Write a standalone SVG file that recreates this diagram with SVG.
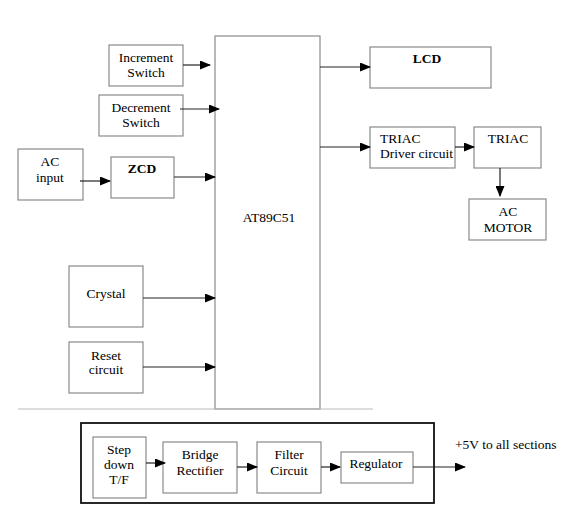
<svg xmlns="http://www.w3.org/2000/svg" width="581" height="530" viewBox="0 0 581 530">
<style>
.b{fill:#fff;stroke:#8a8a8a;stroke-width:1.2}
.t{font-family:"Liberation Serif","Times New Roman",serif;font-size:13.5px;fill:#000;text-anchor:middle}
.l{text-anchor:start}
.bd{font-weight:bold}
.c{stroke:#222;stroke-width:1.2;fill:none;marker-end:url(#a)}
</style>
<defs>
<marker id="a" markerWidth="11" markerHeight="9" refX="10" refY="4.5" orient="auto" markerUnits="userSpaceOnUse">
<path d="M0,0 L11,4.5 L0,9 Z" fill="#000"/>
</marker>
</defs>
<rect width="581" height="530" fill="#fff"/>
<g id="mcu"><rect class="b" x="215" y="36" width="105" height="373"/><text class="t" x="269" y="222" font-size="14">AT89C51</text></g>
<g id="inc"><rect class="b" x="109" y="45" width="74" height="41"/><text class="t" x="146" y="62">Increment</text><text class="t" x="146" y="77">Switch</text></g>
<g id="dec"><rect class="b" x="99" y="95" width="84" height="41"/><text class="t" x="141" y="112">Decrement</text><text class="t" x="141" y="127">Switch</text></g>
<g id="acin"><rect class="b" x="18" y="149" width="65" height="51"/><text class="t" x="50" y="166">AC</text><text class="t" x="50" y="182">input</text></g>
<g id="zcd"><rect class="b" x="111" y="157" width="63" height="41"/><text class="t bd" x="142" y="173">ZCD</text></g>
<g id="crystal"><rect class="b" x="69" y="266" width="74" height="61"/><text class="t" x="106" y="298">Crystal</text></g>
<g id="reset"><rect class="b" x="69" y="342" width="74" height="51"/><text class="t" x="106" y="360">Reset</text><text class="t" x="106" y="374">circuit</text></g>
<g id="lcd"><rect class="b" x="370" y="47" width="121" height="41"/><text class="t bd" x="427" y="63">LCD</text></g>
<g id="driver"><rect class="b" x="370" y="127" width="85" height="41"/><text class="t l" x="380" y="143">TRIAC</text><text class="t l" x="380" y="158" font-size="12.3">Driver circuit</text></g>
<g id="triac"><rect class="b" x="474" y="127" width="67" height="41"/><text class="t" x="508" y="143">TRIAC</text></g>
<g id="motor"><rect class="b" x="469" y="199" width="77" height="41"/><text class="t" x="508" y="216">AC</text><text class="t" x="508" y="232">MOTOR</text></g>
<g id="separator"><line x1="18" y1="409" x2="373" y2="409" stroke="#bbb" stroke-width="1"/></g>
<g id="supply"><rect x="81" y="423" width="353" height="80" fill="none" stroke="#111" stroke-width="1.8"/></g>
<g id="step"><rect class="b" x="93" y="437" width="53" height="61"/><text class="t" x="119" y="454">Step</text><text class="t" x="119" y="469">down</text><text class="t" x="119" y="484">T/F</text></g>
<g id="bridge"><rect class="b" x="163" y="442" width="74" height="51"/><text class="t" x="200" y="459">Bridge</text><text class="t" x="200" y="475">Rectifier</text></g>
<g id="filter"><rect class="b" x="257" y="442" width="64" height="51"/><text class="t" x="289" y="459">Filter</text><text class="t" x="289" y="475">Circuit</text></g>
<g id="regulator"><rect class="b" x="341" y="452" width="72" height="31"/><text class="t" x="376" y="468">Regulator</text></g>
<g id="out"><text class="t l" x="455" y="449">+5V to all sections</text></g>
<g id="connectors">
<line class="c" x1="183" y1="65" x2="210" y2="65"/>
<line class="c" x1="180" y1="109" x2="219" y2="109"/>
<line class="c" x1="80" y1="181" x2="110" y2="181"/>
<line class="c" x1="174" y1="177" x2="215" y2="177"/>
<line class="c" x1="143" y1="298" x2="215" y2="298"/>
<line class="c" x1="143" y1="367" x2="215" y2="367"/>
<line class="c" x1="320" y1="67" x2="370" y2="67"/>
<line class="c" x1="320" y1="147" x2="370" y2="147"/>
<line class="c" x1="455" y1="147" x2="474" y2="147"/>
<line class="c" x1="500" y1="168" x2="500" y2="196"/>
<line class="c" x1="146" y1="463" x2="165" y2="463"/>
<line class="c" x1="237" y1="467" x2="257" y2="467"/>
<line class="c" x1="321" y1="467" x2="340" y2="467"/>
<line class="c" x1="413" y1="467" x2="465" y2="467"/>
</g>
</svg>
